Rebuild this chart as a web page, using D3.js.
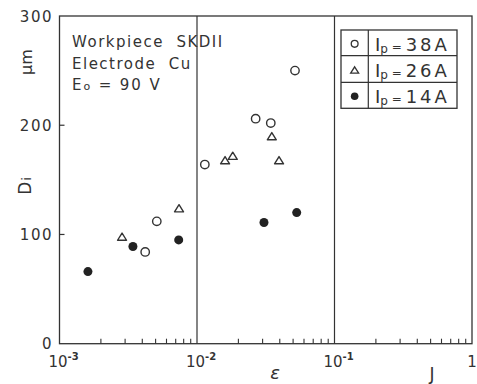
<!DOCTYPE html>
<html>
<head>
<meta charset="utf-8">
<script src="https://cdn.jsdelivr.net/npm/d3@7"></script>
<style>
	body { margin: 0; background: #fff; }
	text { font-family: "DejaVu Sans", sans-serif; fill: #333; white-space: pre; }
</style>
</head>
<body>
<svg id="chart"></svg>
<script>
// data
var xDomain = [1e-3, 1],
	yDomain = [0, 300],
	yTicks = [0, 100, 200, 300],
	xMajor = [1e-3, 1e-2, 1e-1, 1],
	xMajorLabels = [['10', '-3'], ['10', '-2'], ['10', '-1'], ['1', '']];

var eps38 = [4.2e-3, 5.1e-3, 1.14e-2, 2.67e-2, 3.44e-2, 5.16e-2],
	d38 = [84, 112, 164, 206, 202, 250];
var eps26 = [2.85e-3, 7.4e-3, 1.6e-2, 1.82e-2, 3.5e-2, 3.95e-2],
	d26 = [98, 124, 168, 172, 190, 168];
var eps14 = [1.61e-3, 3.42e-3, 7.36e-3, 3.07e-2, 5.31e-2],
	d14 = [66, 89, 95, 111, 120];

var legendLabels = ['38A', '26A', '14A'],
	notes = ['Workpiece  SKDII', 'Electrode  Cu'];

var W = 477, H = 384,
	ink = '#333',
	pLeft = 59.5, pRight = 472, pTop = 16, pBottom = 343.7;

var svg = d3.select('#chart').attr('width', W).attr('height', H);

var x = d3.scaleLog().domain(xDomain).range([pLeft, pRight]),
	y = d3.scaleLinear().domain(yDomain).range([pBottom, pTop]);

var zip = function (a, b) {
	return a.map(function (v, i) { return [v, b[i]]; });
};

// frame
svg.append('rect')
	.attr('x', pLeft).attr('y', pTop)
	.attr('width', pRight - pLeft).attr('height', pBottom - pTop)
	.style('fill', 'none').style('stroke', ink).style('stroke-width', 1.3);

// decade lines
svg.append('g').selectAll('line')
	.data([1e-2, 1e-1]).enter()
	.append('line')
		.attr('x1', function (d) { return x(d); })
		.attr('x2', function (d) { return x(d); })
		.attr('y1', pTop).attr('y2', pBottom)
		.style('stroke', ink).style('stroke-width', 1.2);

// minor ticks on the bottom, pointing in
var minor = [];
[1e-3, 1e-2, 1e-1].forEach(function (d) {
	for (var k = 2; k < 10; k++) { minor.push(d * k); }
});
svg.append('g').selectAll('line')
	.data(minor).enter()
	.append('line')
		.attr('x1', function (d) { return x(d); })
		.attr('x2', function (d) { return x(d); })
		.attr('y1', pBottom).attr('y2', pBottom - 5)
		.style('stroke', ink).style('stroke-width', 1.1);

// y ticks pointing in
svg.append('g').selectAll('line')
	.data([100, 200]).enter()
	.append('line')
		.attr('x1', pLeft).attr('x2', pLeft + 5)
		.attr('y1', function (d) { return y(d); })
		.attr('y2', function (d) { return y(d); })
		.style('stroke', ink).style('stroke-width', 1.2);

svg.append('g').selectAll('text')
	.data(yTicks).enter()
	.append('text')
		.attr('x', 53)
		.attr('y', function (d) { return y(d) + 5.5; })
		.attr('text-anchor', 'end')
		.style('font-size', '15px')
		.style('letter-spacing', '1.5px')
		.text(function (d) { return d; });

// x labels
var xl = svg.append('g').selectAll('text')
	.data(xMajor).enter()
	.append('text')
		.attr('x', function (d, i) { return x(d) + (i === 3 ? 0 : 4); })
		.attr('y', 367)
		.attr('text-anchor', 'middle')
		.style('font-size', '15px');
xl.append('tspan').text(function (d, i) { return xMajorLabels[i][0]; });
xl.append('tspan')
	.attr('dy', -7)
	.style('font-size', '10px')
	.style('font-weight', 'bold')
	.text(function (d, i) { return xMajorLabels[i][1]; });

svg.append('text')
	.attr('x', 275).attr('y', 379)
	.attr('text-anchor', 'middle')
	.style('font-size', '18px').style('font-style', 'italic')
	.text('ε');
svg.append('text')
	.attr('x', 432).attr('y', 380)
	.attr('text-anchor', 'middle')
	.style('font-size', '17px')
	.text('J');

// y axis title
svg.append('text')
	.attr('transform', 'translate(32 62) rotate(-90)')
	.attr('text-anchor', 'middle')
	.style('font-size', '16px')
	.text('μm');
var di = svg.append('text')
	.attr('transform', 'translate(31 186) rotate(-90)')
	.attr('text-anchor', 'middle')
	.style('font-size', '17px');
di.append('tspan').text('D');
di.append('tspan').style('font-size', '13px').attr('dx', 1).text('i');

// notes
svg.append('g').selectAll('text')
	.data(notes).enter()
	.append('text')
		.attr('x', 72)
		.attr('y', function (d, i) { return 47 + i * 21.5; })
		.style('font-size', '15px')
		.style('letter-spacing', '1.5px')
		.text(function (d) { return d; });
var eo = svg.append('text')
	.attr('x', 72).attr('y', 90)
	.style('font-size', '15px')
	.style('letter-spacing', '1.9px');
eo.append('tspan').text('E');
eo.append('tspan').style('font-size', '11px').text('o');
eo.append('tspan').text(' = 90 V');

// markers
var triangle = function (s) {
	var h = s * 0.8;
	return 'M0,' + (-h / 2) + 'L' + (s / 2) + ',' + (h / 2) + 'L' + (-s / 2) + ',' + (h / 2) + 'Z';
};

svg.append('g').selectAll('circle')
	.data(zip(eps38, d38)).enter()
	.append('circle')
		.attr('cx', function (d) { return x(d[0]); })
		.attr('cy', function (d) { return y(d[1]); })
		.attr('r', 4.2)
		.style('fill', 'none').style('stroke', ink).style('stroke-width', 1.4);

svg.append('g').selectAll('path')
	.data(zip(eps26, d26)).enter()
	.append('path')
		.attr('transform', function (d) { return 'translate(' + x(d[0]) + ',' + y(d[1]) + ')'; })
		.attr('d', triangle(9))
		.style('fill', 'none').style('stroke', ink).style('stroke-width', 1.4)
		.style('stroke-linejoin', 'round');

svg.append('g').selectAll('circle')
	.data(zip(eps14, d14)).enter()
	.append('circle')
		.attr('cx', function (d) { return x(d[0]); })
		.attr('cy', function (d) { return y(d[1]); })
		.attr('r', 4.5)
		.style('fill', '#222');

// legend table
var lg = svg.append('g'),
	lx0 = 341, lx1 = 368.3, lx2 = 457,
	rows = [30, 55.7, 82.3, 108.3];

lg.append('rect')
	.attr('x', lx0).attr('y', rows[0])
	.attr('width', lx2 - lx0).attr('height', rows[3] - rows[0])
	.style('fill', 'none').style('stroke', ink).style('stroke-width', 1.3);
lg.append('line')
	.attr('x1', lx1).attr('x2', lx1).attr('y1', rows[0]).attr('y2', rows[3])
	.style('stroke', ink).style('stroke-width', 1.2);
lg.selectAll('.div')
	.data([rows[1], rows[2]]).enter()
	.append('line')
		.attr('x1', lx0).attr('x2', lx2)
		.attr('y1', function (d) { return d; }).attr('y2', function (d) { return d; })
		.style('stroke', ink).style('stroke-width', 1.2);

var cx = (lx0 + lx1) / 2,
	rowMid = function (i) { return (rows[i] + rows[i + 1]) / 2 + 1; };

lg.append('circle').attr('cx', cx).attr('cy', rowMid(0)).attr('r', 3.4)
	.style('fill', 'none').style('stroke', ink).style('stroke-width', 1.3);
lg.append('path').attr('transform', 'translate(' + cx + ',' + rowMid(1) + ')')
	.attr('d', triangle(8))
	.style('fill', 'none').style('stroke', ink).style('stroke-width', 1.3);
lg.append('circle').attr('cx', cx).attr('cy', rowMid(2)).attr('r', 3.8)
	.style('fill', '#222');

var lt = lg.selectAll('.lt')
	.data(legendLabels).enter()
	.append('text')
		.attr('x', 375)
		.attr('y', function (d, i) { return rowMid(i) + 7; })
		.style('font-size', '18px');
lt.append('tspan').text('I');
lt.append('tspan').style('font-size', '12px').attr('dy', 2).text('p');
lt.append('tspan').style('font-size', '12px').attr('dy', -2).text(' = ');
lt.append('tspan').style('letter-spacing', '3px').text(function (d) { return d; });
</script>
</body>
</html>
